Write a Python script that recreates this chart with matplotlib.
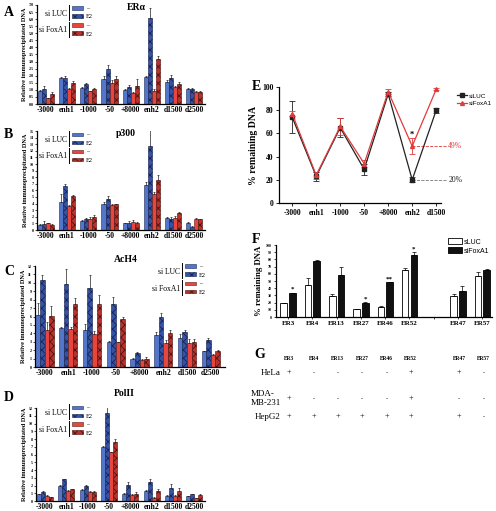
import matplotlib
matplotlib.use('Agg')
import matplotlib.pyplot as plt
import numpy as np
from matplotlib.patches import Rectangle, Patch
from matplotlib.lines import Line2D

# %% 字体
plt.rcParams['font.family'] = ['Liberation Serif', 'DejaVu Serif']
plt.rcParams['hatch.linewidth'] = 0.6
plt.rcParams['axes.linewidth'] = 0.9

W, H = 496, 511

# %% 数据
regions = ['-3000', 'enh1', '-1000', '-50', '+8000', 'enh2', 'd1500', 'd2500']

# A  ERα   (siLUC -, siLUC E2, siFoxA1 -, siFoxA1 E2)
era_luc = [0.95, 1.85, 1.1, 1.75, 1.0, 1.9, 1.55, 1.05]
era_luc_e2 = [1.05, 1.85, 1.4, 2.45, 1.2, 6.05, 1.85, 1.05]
era_fox = [0.4, 1.05, 0.9, 1.45, 0.75, 0.95, 1.2, 0.85]
era_fox_e2 = [0.7, 1.45, 1.05, 1.75, 1.3, 3.2, 1.4, 0.85]
era_err = [[0.05, 0.05, 0.08, 0.25, 0.05, 0.1, 0.15, 0.05],
           [0.2, 0.15, 0.1, 0.3, 0.12, 0.75, 0.2, 0.05],
           [0.05, 0.05, 0.05, 0.25, 0.1, 0.1, 0.1, 0.05],
           [0.15, 0.2, 0.1, 0.25, 0.45, 0.2, 0.15, 0.05]]

# B  p300
p300_luc = [0.8, 4.2, 1.3, 4.0, 1.0, 6.8, 1.8, 1.1]
p300_luc_e2 = [0.9, 6.6, 1.6, 4.7, 1.1, 12.8, 1.6, 0.5]
p300_fox = [1.0, 3.6, 1.7, 3.8, 1.2, 5.5, 1.8, 1.7]
p300_fox_e2 = [0.8, 5.1, 2.0, 3.9, 1.1, 7.6, 2.5, 1.6]
p300_err = [[0.05, 1.3, 0.15, 0.2, 0.1, 0.4, 0.2, 0.1],
            [0.5, 0.3, 0.2, 0.5, 0.3, 2.6, 0.3, 0.05],
            [0.05, 0.15, 0.2, 0.1, 0.3, 0.2, 0.3, 0.1],
            [0.05, 0.15, 0.2, 0.1, 0.1, 0.8, 0.2, 0.1]]

# C  AcH4
ach4_luc = [6.2, 4.6, 4.4, 2.95, 1.0, 3.8, 3.5, 1.85]
ach4_luc_e2 = [10.3, 9.9, 9.4, 7.5, 1.7, 6.0, 4.1, 3.2]
ach4_fox = [4.4, 4.55, 3.95, 2.95, 0.8, 2.85, 2.8, 1.45]
ach4_fox_e2 = [6.1, 7.5, 7.5, 5.7, 1.0, 4.0, 3.0, 1.95]
ach4_err = [[1.4, 0.2, 0.7, 0.15, 0.05, 0.3, 0.4, 0.05],
            [0.6, 1.8, 1.5, 0.8, 0.05, 0.4, 0.3, 0.3],
            [0.9, 0.15, 0.3, 0.05, 0.1, 0.3, 0.5, 0.1],
            [1.1, 0.7, 1.0, 0.3, 0.2, 0.4, 0.3, 0.1]]

# D  PolII
pol2_luc = [0.85, 1.95, 1.4, 7.0, 0.95, 1.3, 0.7, 0.6]
pol2_luc_e2 = [1.15, 2.8, 1.9, 11.3, 2.1, 2.5, 1.7, 0.85]
pol2_fox = [0.7, 1.35, 1.2, 6.3, 0.75, 0.45, 0.65, 0.35]
pol2_fox_e2 = [0.5, 1.5, 1.15, 7.6, 0.95, 1.35, 1.3, 0.8]
pol2_err = [[0.05, 0.1, 0.1, 0.05, 0.05, 0.1, 0.05, 0.05],
            [0.2, 0.1, 0.2, 1.0, 0.4, 0.3, 0.5, 0.1],
            [0.05, 0.05, 0.05, 0.05, 0.1, 0.05, 0.1, 0.05],
            [0.05, 0.1, 0.1, 0.4, 0.2, 0.2, 0.4, 0.1]]

# E  % remaining DNA
e_regions = ['-3000', 'enh1', '-1000', '-50', '+8000', 'enh2', 'd1500']
e_luc = [74, 23, 65, 29, 94, 20, 80]
e_luc_err = [14, 4, 8, 5, 2, 2, 2]
e_fox = [77, 24, 66, 34, 96, 49, 98]
e_fox_err = [2, 3, 7, 3, 2, 7, 1]

# F
f_labels = ['ER3', 'ER4', 'ER13', 'ER27', 'ER46', 'ER52', 'ER47', 'ER57']
f_luc = [19, 45, 28.5, 11, 14.5, 65, 29.5, 57]
f_luc_err = [0.5, 9, 3.5, 0.5, 1, 3, 3, 5]
f_fox = [33, 78, 58.5, 20, 48, 86, 36.5, 65]
f_fox_err = [1, 0.5, 11, 0.7, 0.5, 4, 7, 1]
f_stars = ['*', '', '', '*', '**', '*', '', '']

# G
g_rows = ['HeLa', 'MDA-\nMB-231', 'HepG2']
g_hela = ['+', '-', '-', '-', '-', '+', '+', '-']
g_mda = ['+', '-', '-', '-', '-', '+', '-', '-']
g_hepg2 = ['+', '+', '+', '+', '+', '+', '+', '-']

# %% 样式
BLUE, BLUE_E2 = '#5376c8', '#3553a6'
RED, RED_E2 = '#e6463d', '#b8322b'
styles = [dict(color=BLUE, edgecolor='#1c2a5c', hatch=None),
          dict(color=BLUE_E2, edgecolor='#16224f', hatch='xxxx'),
          dict(color=RED, edgecolor='#5c1a16', hatch=None),
          dict(color=RED_E2, edgecolor='#4f1210', hatch='xxxx')]

fig = plt.figure(figsize=(W / 100, H / 100), dpi=100)


def px_axes(l, t, r, b):
    return fig.add_axes([l / W, 1 - b / H, (r - l) / W, (b - t) / H])


def fig_text(x, y, s, **kw):
    fig.text(x / W, 1 - y / H, s, **kw)


def fig_rect(x, y, w, h, **kw):
    fig.add_artist(Rectangle((x / W, 1 - (y + h) / H), w / W, h / H,
                             transform=fig.transFigure, linewidth=0.4, **kw))


def fig_line(x0, y0, x1, y1, **kw):
    fig.add_artist(Line2D([x0 / W, x1 / W], [1 - y0 / H, 1 - y1 / H],
                          transform=fig.transFigure, **kw))


def group_legend(xr, yt):
    # xr: 文字右端, yt: 顶部 (像素)
    for j, name in enumerate(['si LUC', 'si FoxA1']):
        y0 = yt + j * 17
        fig_text(xr, y0 + 8.5, name, ha='right', va='center', fontsize=5.5)
        fig_line(xr + 2, y0, xr + 2, y0 + 15, color='black', lw=0.7)
        for k, lab in enumerate(['\u2013', 'E2']):
            st = styles[2 * j + k]
            fig_rect(xr + 5, y0 + 1.5 + k * 8, 11, 3.6, facecolor=st['color'],
                     edgecolor=st['edgecolor'], hatch=st['hatch'])
            fig_text(xr + 19, y0 + 3.5 + k * 8.5, lab, ha='left', va='center', fontsize=4.5)


def bar_panel(ax, series, errs, ymax, ticks, labfmt, xlim):
    x = np.arange(len(regions))
    w = 0.19
    for k in range(4):
        st = styles[k]
        ax.bar(x + (k - 1.5) * w, series[k], w, color=st['color'], edgecolor=st['edgecolor'],
               hatch=st['hatch'], linewidth=0.4,
               yerr=[np.zeros(len(regions)), errs[k]],
               error_kw=dict(elinewidth=0.5, capsize=1.0, capthick=0.5, ecolor='#222222'))
    ax.set_xlim(*xlim)
    ax.set_ylim(0, ymax)
    ax.set_yticks(ticks)
    ax.set_yticklabels([labfmt.format(t) for t in ticks], fontsize=3, fontweight='bold')
    ax.set_xticks(x)
    ax.set_xticklabels(regions, fontsize=5.5, fontweight='bold')
    ax.tick_params(axis='x', length=0, pad=1.5)
    ax.tick_params(axis='y', length=1.5, width=0.5, pad=1)
    ax.spines['top'].set_visible(False)
    ax.spines['right'].set_visible(False)
    ax.set_ylabel('Relative immunoprecipitated DNA', fontsize=4.5, fontweight='bold', labelpad=1)


# %% A
axA = px_axes(37, 5, 205, 104)
bar_panel(axA, [era_luc, era_luc_e2, era_fox, era_fox_e2], era_err, 7.0,
          np.arange(0, 7.01, 0.5), '{:.1f}', (-0.42, 7.5))
fig_text(136, 7, 'ER\u03b1', ha='center', va='center', fontsize=7, fontweight='bold')
group_legend(67, 5)

# %% B
axB = px_axes(37, 131, 205, 230)
bar_panel(axB, [p300_luc, p300_luc_e2, p300_fox, p300_fox_e2], p300_err, 15,
          np.arange(0, 16, 1), '{:.0f}', (-0.42, 7.5))
fig_text(126, 134, 'p300', ha='center', va='center', fontsize=7, fontweight='bold')
group_legend(67, 131)

# %% C
axC = px_axes(35, 266, 225, 367)
bar_panel(axC, [ach4_luc, ach4_luc_e2, ach4_fox, ach4_fox_e2], ach4_err, 12,
          np.arange(0, 13, 1), '{:.0f}', (-0.4, 7.6))
fig_text(126, 259, 'AcH4', ha='center', va='center', fontsize=7, fontweight='bold')
group_legend(180, 263)

# %% D
axD = px_axes(36, 408, 205, 501)
bar_panel(axD, [pol2_luc, pol2_luc_e2, pol2_fox, pol2_fox_e2], pol2_err, 12,
          np.arange(0, 13, 1), '{:.0f}', (-0.42, 7.5))
fig_text(124, 393, 'PolII', ha='center', va='center', fontsize=7, fontweight='bold')
group_legend(67, 404)

# %% E
axE = px_axes(279, 87, 441, 203)
xe = np.arange(len(e_regions))
axE.errorbar(xe, e_luc, yerr=e_luc_err, color='#222222', marker='s', ms=2.5, lw=0.9,
             elinewidth=0.6, capsize=2, capthick=0.6)
axE.errorbar(xe, e_fox, yerr=e_fox_err, color='#e03c3c', marker='^', ms=2.8, lw=0.9,
             elinewidth=0.6, capsize=2, capthick=0.6, mec='#e03c3c')
axE.plot([5, 6.45], [e_fox[5], e_fox[5]], '--', color='#e03c3c', lw=0.6, clip_on=False)
axE.plot([5, 6.45], [e_luc[5], e_luc[5]], '--', color='#777777', lw=0.6, clip_on=False)
axE.text(6.5, e_fox[5], '{}%'.format(e_fox[5]), color='#e03c3c', fontsize=5.5, va='center')
axE.text(6.5, e_luc[5], '{}%'.format(e_luc[5]), color='#222222', fontsize=5.5, va='center')
axE.text(5, e_fox[5] + e_fox_err[5] + 1, '*', ha='center', fontsize=6, fontweight='bold')
axE.set_xlim(-0.55, 6.2)
axE.set_ylim(0, 100)
axE.set_yticks(range(0, 101, 20))
axE.set_yticklabels([str(v) for v in range(0, 101, 20)], fontsize=5.5, fontweight='bold')
axE.set_xticks(xe)
axE.set_xticklabels(e_regions, fontsize=5.5, fontweight='bold')
axE.tick_params(length=2, width=0.6, pad=2)
axE.spines['top'].set_visible(False)
axE.spines['right'].set_visible(False)
axE.set_ylabel('% remaining DNA', fontsize=7, fontweight='bold', labelpad=3)
e_handles = [Line2D([], [], color='#222222', marker='s', ms=2.5, lw=0.9),
             Line2D([], [], color='#e03c3c', marker='^', ms=2.8, lw=0.9)]
axE.legend(e_handles, ['siLUC', 'siFoxA1'], loc='upper left', bbox_to_anchor=(1.08, 0.97),
           frameon=False, prop={'family': 'Liberation Sans', 'size': 4.6}, handlelength=1.7,
           handletextpad=0.2, labelspacing=0.3, borderaxespad=0)

# %% F
pos = np.array([0, 1, 2, 3, 4, 5, 7, 8])
axF = px_axes(276, 245, 492, 317)
bw = 0.27
axF.bar(pos - 0.18, f_luc, bw, color='white', edgecolor='black', linewidth=0.6,
        yerr=[np.zeros(len(pos)), f_luc_err],
        error_kw=dict(elinewidth=0.5, capsize=1.2, capthick=0.5))
axF.bar(pos + 0.18, f_fox, bw, color='#111111', edgecolor='black', linewidth=0.6,
        yerr=[np.zeros(len(pos)), f_fox_err],
        error_kw=dict(elinewidth=0.5, capsize=1.2, capthick=0.5))
for p, v, e, s in zip(pos, f_fox, f_fox_err, f_stars):
    if s:
        axF.text(p + 0.18, v + e + 1, s, ha='center', va='bottom', fontsize=5, fontweight='bold')
axF.set_xlim(-0.5, 8.4)
axF.set_ylim(0, 100)
axF.set_yticks(range(0, 101, 10))
axF.set_yticklabels([str(v) for v in range(0, 101, 10)], fontsize=2.8, fontweight='bold')
axF.set_xticks(list(pos) + [6])
axF.set_xticklabels(f_labels + [''], fontsize=5, fontweight='bold')
axF.tick_params(length=1.5, width=0.5, pad=1.5)
axF.spines['top'].set_visible(False)
axF.spines['right'].set_visible(False)
axF.set_ylabel('% remaining DNA', fontsize=6.3, fontweight='bold', labelpad=2)
f_handles = [Patch(facecolor='white', edgecolor='black', linewidth=0.6),
             Patch(facecolor='#111111', edgecolor='black', linewidth=0.6)]
axF.legend(f_handles, ['sLUC', 'siFoxA1'], loc='upper right', bbox_to_anchor=(1.0, 1.13),
           frameon=False, prop={'family': 'Liberation Sans', 'size': 5}, handlelength=2.0,
           handleheight=0.9, handletextpad=0.2, labelspacing=0.25, borderaxespad=0)

# %% G
axG = px_axes(276, 350, 492, 425)
axG.set_xlim(-0.5, 8.4)
axG.set_ylim(4, 0)
axG.axis('off')
for p, lab in zip(pos, f_labels):
    axG.text(p + 0.05, 0.45, lab, ha='center', va='center', fontsize=4, fontweight='bold')
row_y = [1.2, 2.6, 3.55]
for ry, name, marks in zip(row_y, g_rows, [g_hela, g_mda, g_hepg2]):
    axG.text(-0.3, ry, name, ha='right', va='center', fontsize=6.5, multialignment='left',
             linespacing=1.1)
    for p, m in zip(pos, marks):
        axG.text(p + 0.05, ry, m, ha='center', va='center', fontsize=6 if m == '+' else 4.5)

# %% 面板字母
for lab, x, y in [('A', 4, 13), ('B', 4, 134), ('C', 4, 271), ('D', 4, 397),
                  ('E', 252, 86), ('F', 252, 239), ('G', 254, 354)]:
    fig_text(x, y, lab, fontsize=10, fontweight='bold', va='center', ha='left')

fig.savefig('out.png', dpi=100)
